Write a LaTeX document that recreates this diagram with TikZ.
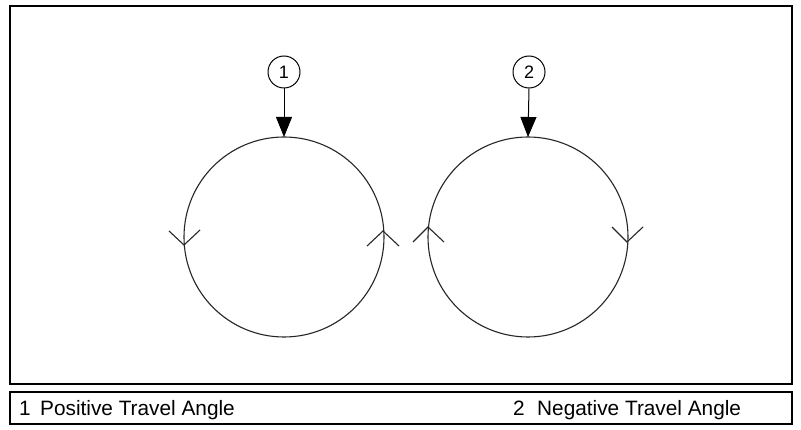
\documentclass[tikz,border=0pt]{standalone}
\usepackage{fontspec}
\setmainfont{Liberation Sans}
\usetikzlibrary{arrows.meta}
\begin{document}
\begin{tikzpicture}[x=1pt,y=-1pt,
  frame/.style={draw=black,line width=2pt},
  loop/.style={draw=black!85,line width=1.1pt},
  callout/.style={circle,draw=black,line width=1pt,minimum size=32pt,inner sep=0pt,font=\fontsize{18}{18}\selectfont},
  pointer/.style={draw=black,line width=1pt,-{Triangle[length=20pt,width=16pt]}},
  chev/.style={draw=black!85,line width=1.1pt},
  legtext/.style={anchor=base west,inner sep=0pt,font=\fontsize{20.8}{20.8}\selectfont}]
\useasboundingbox (0,0) rectangle (801,430);
\fill[white] (0,0) rectangle (801,430);
% frames
\draw[frame] (10,6) rectangle (792,384);
\draw[frame] (10,392) rectangle (792,424);
% loops
\coordinate (c1) at (284,237);
\coordinate (c2) at (528,237);
\draw[loop] (c1) circle[radius=100];
\draw[loop] (c2) circle[radius=100];
% callouts
\node[callout] (n1) at (284,72) {1};
\node[callout] (n2) at (529,72) {2};
\coordinate (t1) at (284,137);
\coordinate (t2) at (528,137);
\draw[pointer] (n1.south) -- (t1);
\draw[pointer] (n2.south) -- (t2);
% direction chevrons, circle 1
\coordinate (a1) at (184,245);
\draw[chev] (169,231) -- (a1) -- (200,230);
\coordinate (a2) at (383,231);
\draw[chev] (367,246) -- (a2) -- (399,246);
% direction chevrons, circle 2
\coordinate (a3) at (428,227);
\draw[chev] (413,242) -- (a3) -- (444,242);
\coordinate (a4) at (627,242);
\draw[chev] (612,227) -- (a4) -- (643,227);
% legend
\node[legtext] (k1) at (19,416) {1};
\node[legtext] (l1) at (40,416) {Positive Travel Angle};
\node[legtext] (k2) at (513,416) {2};
\node[legtext] (l2) at (537,416) {Negative Travel Angle};
\end{tikzpicture}
\end{document}
